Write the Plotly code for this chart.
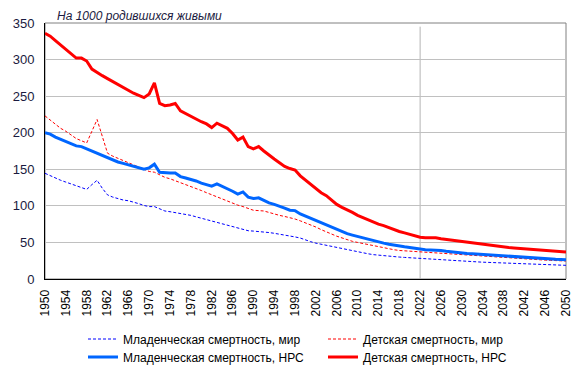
import plotly.graph_objects as go

years = list(range(1950, 2051))

infant_world = [144.5, 141, 138, 135, 132.5, 130, 127.5, 125, 122.5, 129,
                135, 124, 115, 112, 109.5, 108, 107, 105.5, 103, 100.5,
                99, 99, 95.5, 93, 92, 91, 90, 89, 87, 85,
                83, 81, 79, 77.5, 76, 73, 71, 69, 67, 66,
                65.5, 65, 64.7, 63.5, 62.5, 61.5, 60, 59, 57.5, 56,
                53, 51, 49, 47.5, 46, 44, 42.5, 41, 39.5, 38,
                37, 35.5, 34.5, 33.3, 32.5, 31.7, 31, 30.5, 30, 29.5,
                29, 28.8, 28.3, 28, 27.5, 27, 26.5, 26, 25.5, 25,
                24.6, 24.2, 23.8, 23.4, 23, 22.7, 22.3, 22, 21.6, 21.3,
                21, 20.6, 20.3, 20, 19.8, 19.5, 19.2, 19, 18.9, 18.8,
                18.7]

child_world = [223, 217, 211, 206, 202, 197, 192, 189, 186, 202,
               218, 195, 172, 168, 165, 163, 160, 157, 153, 150,
               147, 146, 142, 139, 137, 134.5, 132, 129.5, 126.5, 124,
               121, 118, 115, 112, 109, 106, 104, 101, 99, 96,
               94, 93.5, 93, 91, 88.5, 87, 85.5, 84, 82, 79.5,
               77, 74, 71, 67.5, 64, 61.5, 58.5, 56, 53.5, 51.5,
               50, 48.5, 47, 45, 43.5, 42, 41, 40, 39, 38.5,
               38, 37.5, 37, 36.5, 36.2, 36, 35.5, 35, 34.5, 34,
               33.5, 33, 32.5, 32, 31, 30.5, 30, 29.5, 29, 28.5,
               28.2, 28, 27.5, 27, 26.6, 26.2, 25.8, 25.5, 25.2, 24.9,
               24.6]

infant_ldc = [200, 198, 194, 191, 188, 185, 182, 181, 178, 174,
              171, 168, 165, 162, 160, 158, 156, 153, 151, 150,
              152, 157, 146, 145, 145, 145, 140, 138, 136.5, 134,
              131, 129, 127, 130, 127, 124, 120, 116, 119, 112,
              110, 111, 107, 104, 102, 100, 97, 94, 93.5, 89,
              86, 83, 80, 76, 73, 70, 68, 65, 62, 60,
              58, 56, 54, 52, 50.5, 49, 47.5, 46, 45, 44,
              43, 42, 40.5, 40, 39.8, 39.6, 39, 38, 37.5, 36.5,
              36, 35, 34.5, 34, 33, 32.5, 32, 31.5, 31, 30.5,
              30, 29.5, 29, 28.7, 28.4, 28, 27.7, 27.4, 27, 26.7,
              26.4]

child_ldc = [336, 332, 326, 320, 315, 308, 302, 302, 298, 287,
             282, 278, 274, 270, 265, 262, 258, 254, 251, 248,
             253, 268, 240, 237, 238, 240, 230, 226, 223, 219,
             215, 212, 207, 213, 210, 206, 199, 190, 194, 181,
             178, 181, 175, 169, 164, 159, 154, 151, 149, 141,
             135, 129, 123, 118, 114, 108, 102, 98, 95, 91,
             87, 84, 81, 77, 75, 73, 70, 67, 65, 63,
             61, 59, 57, 56.5, 56.5, 56.5, 55, 54, 53, 52,
             51, 50, 49, 48, 47, 46.5, 46, 45, 44, 43,
             42.5, 42, 41, 40.5, 40, 39.5, 39, 38.5, 38, 37.5,
             37]

x_ticks = list(range(1950, 2051, 4))
y_ticks = list(range(0, 351, 50))
divider_year = 2022

names = ["Младенческая смертность, мир", "Детская смертность, мир",
         "Младенческая смертность, НРС", "Детская смертность, НРС"]

# The page body has an 8px margin, so the figure is drawn 8px smaller and
# all pixel positions below are in figure coordinates (screen - 8).
W, H = 572, 363
L, T, R, B = 37, 15, 14, 92
PW, PH = W - L - R, H - T - B


def px_x(x):
    return (x - L) / PW


def px_y(y):
    return (H - B - y) / PH


fig = go.Figure()
fig.add_trace(go.Scatter(x=years, y=infant_world, mode="lines", name=names[0],
                         legend="legend",
                         line=dict(color="#0000ff", width=1, dash="3px,2px")))
fig.add_trace(go.Scatter(x=years, y=child_world, mode="lines", name=names[1],
                         legend="legend",
                         line=dict(color="#ff0000", width=1, dash="3px,2px")))
fig.add_trace(go.Scatter(x=years, y=infant_ldc, mode="lines", name=names[2],
                         legend="legend2",
                         line=dict(color="#0066ff", width=3)))
fig.add_trace(go.Scatter(x=years, y=child_ldc, mode="lines", name=names[3],
                         legend="legend2",
                         line=dict(color="#ff0000", width=3)))

fig.add_shape(type="rect", xref="paper", yref="paper", x0=0, x1=1, y0=0, y1=1,
              line=dict(color="#808080", width=1), layer="below")
fig.add_shape(type="line", xref="x", yref="y", x0=divider_year, x1=divider_year,
              y0=0, y1=345, line=dict(color="#b4b4b4", width=1), layer="below")

fig.add_annotation(text="На 1000 родившихся живыми", xref="paper", yref="paper",
                   x=px_x(48), y=px_y(0), xanchor="left", yanchor="top",
                   showarrow=False, borderpad=0,
                   font=dict(family="Liberation Sans, Arial", size=12, color="#1a1a40",
                             style="italic"))

legend_common = dict(orientation="h", xanchor="left", yanchor="middle", entrywidth=195,
                     font=dict(size=12, color="#000000"), bgcolor="rgba(0,0,0,0)",
                     itemwidth=30)

fig.update_layout(
    width=W, height=H,
    margin=dict(l=L, r=R, t=T, b=B, autoexpand=False),
    paper_bgcolor="white", plot_bgcolor="white",
    font=dict(family="Liberation Sans, Arial", size=12, color="#000000"),
    showlegend=True,
    legend=dict(x=px_x(75), y=px_y(331), **legend_common),
    legend2=dict(x=px_x(75), y=px_y(349), **legend_common),
)
fig.update_xaxes(range=[1950, 2050], tickvals=x_ticks, ticktext=[str(v) for v in x_ticks],
                 tickangle=-90, showgrid=False, zeroline=False, automargin=False,
                 showline=True, linecolor="#000000", linewidth=1,
                 ticks="", ticklabelstandoff=5, tickfont=dict(size=12, color="#000000"))
fig.update_yaxes(range=[0, 350], tickvals=y_ticks, showgrid=True, gridcolor="#c0c0c0",
                 gridwidth=1, zeroline=False, showline=True, linecolor="#000000",
                 linewidth=1, ticks="", ticklabelstandoff=7, automargin=False,
                 tickfont=dict(size=13, color="#1a1a40"))

fig.write_html("out.html")
